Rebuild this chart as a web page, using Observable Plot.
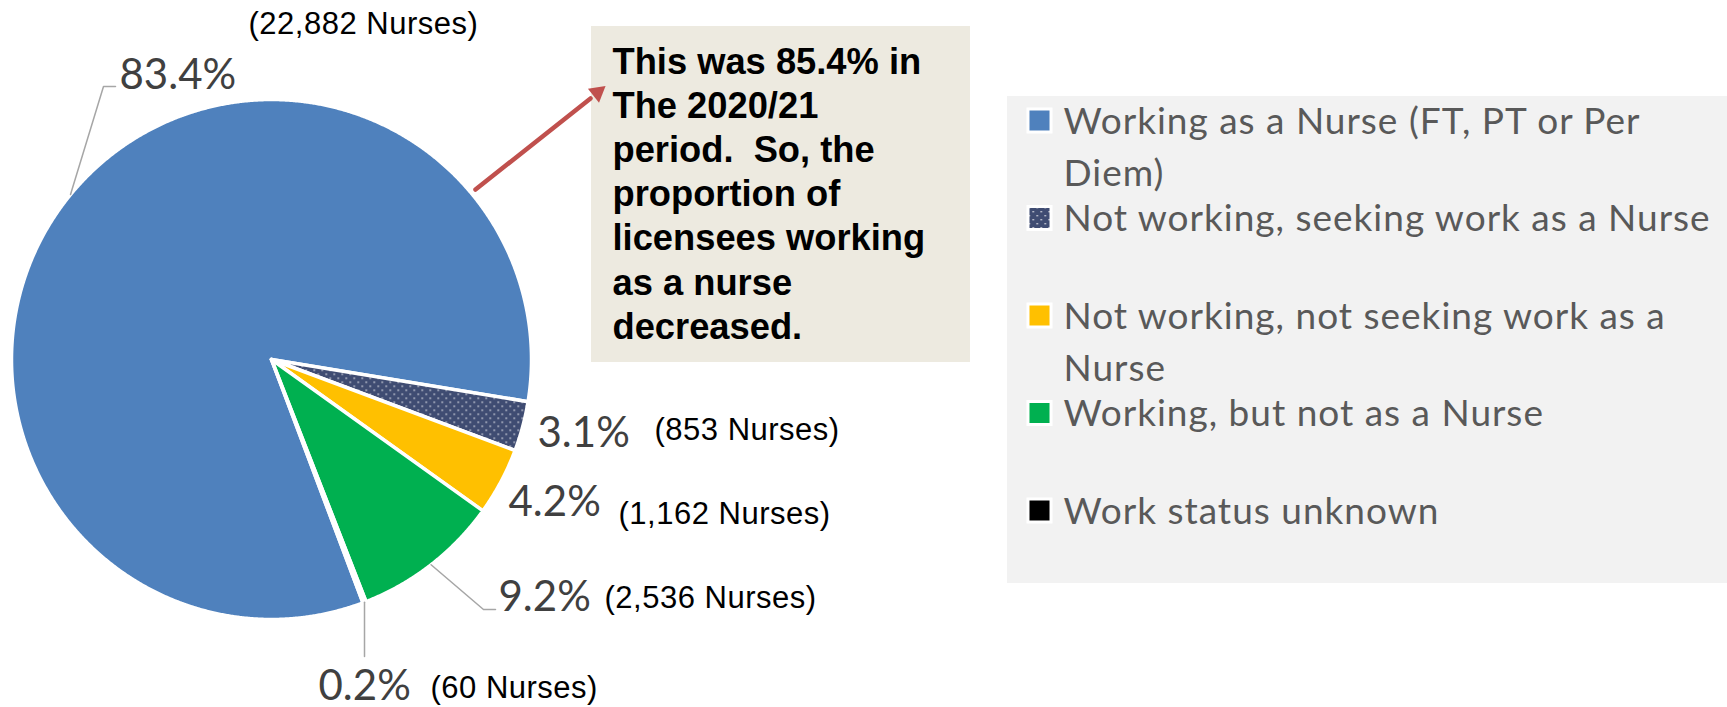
<!DOCTYPE html>
<html><head><meta charset="utf-8">
<script src="https://cdn.jsdelivr.net/npm/d3@7"></script>
<script src="https://cdn.jsdelivr.net/npm/@observablehq/plot@0.6"></script>
<style>
body{margin:0;background:#fff;}
svg text{white-space:pre;}
</style>
</head><body><div id="chart"></div>
<script>
// ---------- data ----------
const categories = [
  "Working as a Nurse (FT, PT or Per Diem)",
  "Not working, seeking work as a Nurse",
  "Not working, not seeking work as a Nurse",
  "Working, but not as a Nurse",
  "Work status unknown"
];
const percents = [83.4, 3.1, 4.2, 9.2, 0.2];
const nurses = [22882, 853, 1162, 2536, 60];
const legendLines = [
  ["Working as a Nurse (FT, PT or Per", "Diem)"],
  ["Not working, seeking work as a Nurse"],
  ["Not working, not seeking work as a", "Nurse"],
  ["Working, but not as a Nurse"],
  ["Work status unknown"]
];
const noteLines = ["This was 85.4% in", "The 2020/21", "period.  So, the", "proportion of", "licensees working", "as a nurse", "decreased."];

// ---------- styles / layout ----------
const colors = ["#4F81BD", "url(#dots)", "#FFC000", "#00B050", "#000000"];
const W = 1727, H = 707;
const cx = 271, cy = 359, R = 260, startDeg = 159.4;
const pctPos = [[119, 88], [537, 446], [508, 515], [498, 610], [318, 699]];
const cntPos = [[248, 33], [654, 439], [618, 523], [604, 607], [430, 697]];
const leaderEnds = [[[103, 86], [115, 86]], null, null, [[483, 609], [495, 609]], [["rim", 656]]];
const noteBox = {x1: 591, x2: 970, y1: 26, y2: 362};
const noteX = 612, noteY0 = 73, noteDy = 44.2;
const legBox = {x1: 1007, x2: 1727, y1: 96, y2: 583};
const legX = 1063, legMarkX = 1039, legY0 = 133, legDy = 97.5, legLineDy = 52;
const arrow = {x1: 475, y1: 189, x2: 590, y2: 98, tx: 597, ty: 92};

const rows = categories.map((c, i) => ({cat: c, pct: percents[i], n: nurses[i], i}));
const start = startDeg * Math.PI / 180;
const arcs = d3.pie().sort(null).value(d => d.pct).startAngle(start).endAngle(start + 2 * Math.PI)(rows);
const P = (a, r) => ({x: cx + r * Math.sin(a), y: cy - r * Math.cos(a)});

const slicePts = [];
for (const a of arcs) {
  slicePts.push({cat: a.data.cat, ...P(0, 0)});
  const steps = Math.max(2, Math.ceil((a.endAngle - a.startAngle) / (0.25 * Math.PI / 180)));
  for (let k = 0; k <= steps; k++) {
    const t = a.startAngle + (a.endAngle - a.startAngle) * k / steps;
    slicePts.push({cat: a.data.cat, ...P(t, R)});
  }
  slicePts.push({cat: a.data.cat, ...P(0, 0)});
}

const leaderPts = [];
arcs.forEach((a, i) => {
  const ends = leaderEnds[i];
  if (!ends) return;
  const m = P((a.startAngle + a.endAngle) / 2, R);
  leaderPts.push({id: i, x: m.x, y: m.y});
  for (const [ex, ey] of ends) leaderPts.push({id: i, x: ex === "rim" ? m.x : ex, y: ey});
});

const pctLabels = rows.map((d, i) => ({t: d.pct.toFixed(1) + "%", x: pctPos[i][0], y: pctPos[i][1]}));
const fmt = d3.format(",");
const cntLabels = rows.map((d, i) => ({t: "(" + fmt(d.n) + " Nurses)", x: cntPos[i][0], y: cntPos[i][1]}));
const noteText = noteLines.map((t, i) => ({t, x: noteX, y: noteY0 + i * noteDy}));
const legText = [];
legendLines.forEach((ls, i) => ls.forEach((t, j) => legText.push({t, x: legX, y: legY0 + i * legDy + j * legLineDy})));
const legMarks = rows.map((d, i) => ({cat: d.cat, x: legMarkX, y: legY0 + i * legDy - 13}));

const chart = Plot.plot({
  width: W, height: H, margin: 0,
  x: {domain: [0, W], range: [0, W], axis: null},
  y: {domain: [0, H], range: [0, H], axis: null},
  color: {domain: categories, range: colors},
  marks: [
    Plot.rect([noteBox], {x1: "x1", x2: "x2", y1: "y1", y2: "y2", fill: "#EDEAE0"}),
    Plot.rect([legBox], {x1: "x1", x2: "x2", y1: "y1", y2: "y2", fill: "#F2F2F2"}),
    Plot.line(slicePts, {x: "x", y: "y", z: "cat", fill: "cat", stroke: "white", strokeWidth: 3.5, strokeLinejoin: "round", curve: "linear"}),
    Plot.line(leaderPts, {x: "x", y: "y", z: "id", stroke: "#A6A6A6", strokeWidth: 1.5, curve: "linear"}),
    Plot.line([{x: arrow.x1, y: arrow.y1}, {x: arrow.x2, y: arrow.y2}], {x: "x", y: "y", stroke: "#C0504D", strokeWidth: 4.5}),
    Plot.dot([arrow], {x: "tx", y: "ty", symbol: "triangle2", r: 8.5, fill: "#C0504D", stroke: "none",
      rotate: Math.atan2(arrow.tx - arrow.x1, arrow.y1 - arrow.ty) * 180 / Math.PI}),
    Plot.text(pctLabels, {x: "x", y: "y", text: "t", textAnchor: "start", lineAnchor: "bottom", fontFamily: "Lato", fontSize: 42, fill: "#404040"}),
    Plot.text(cntLabels, {x: "x", y: "y", text: "t", textAnchor: "start", lineAnchor: "bottom", fontFamily: "Liberation Sans", fontSize: 31, fill: "#000"}),
    Plot.text(noteText, {x: "x", y: "y", text: "t", textAnchor: "start", lineAnchor: "bottom", fontFamily: "Liberation Sans", fontWeight: "bold", fontSize: 36.3, fill: "#000"}),
    Plot.dot(legMarks, {x: "x", y: "y", symbol: "square", r: 13, fill: "cat", stroke: "white", strokeWidth: 3}),
    Plot.text(legText, {x: "x", y: "y", text: "t", textAnchor: "start", lineAnchor: "bottom", fontFamily: "Lato", fontSize: 37, fill: "#595959"})
  ]
});

const ns = "http://www.w3.org/2000/svg";
const defs = document.createElementNS(ns, "defs");
defs.innerHTML = '<pattern id="dots" patternUnits="userSpaceOnUse" width="8" height="8">' +
  '<rect width="8" height="8" fill="#3F4C72"/>' +
  '<rect x="1" y="1" width="1.4" height="1.4" fill="#ffffff" opacity="0.85"/>' +
  '<rect x="5" y="5" width="1.4" height="1.4" fill="#ffffff" opacity="0.85"/></pattern>';
chart.insertBefore(defs, chart.firstChild);

// letter spacing tweaks (font metric compensation)
const legSet = new Set(legText.map(d => d.t));
const cntSet = new Set(cntLabels.map(d => d.t));
chart.querySelectorAll("text").forEach(el => {
  const s = el.textContent;
  if (legSet.has(s)) el.setAttribute("letter-spacing", "1");
  else if (cntSet.has(s)) el.setAttribute("letter-spacing", "0.5");
});
document.getElementById("chart").appendChild(chart);
</script>
</body></html>
